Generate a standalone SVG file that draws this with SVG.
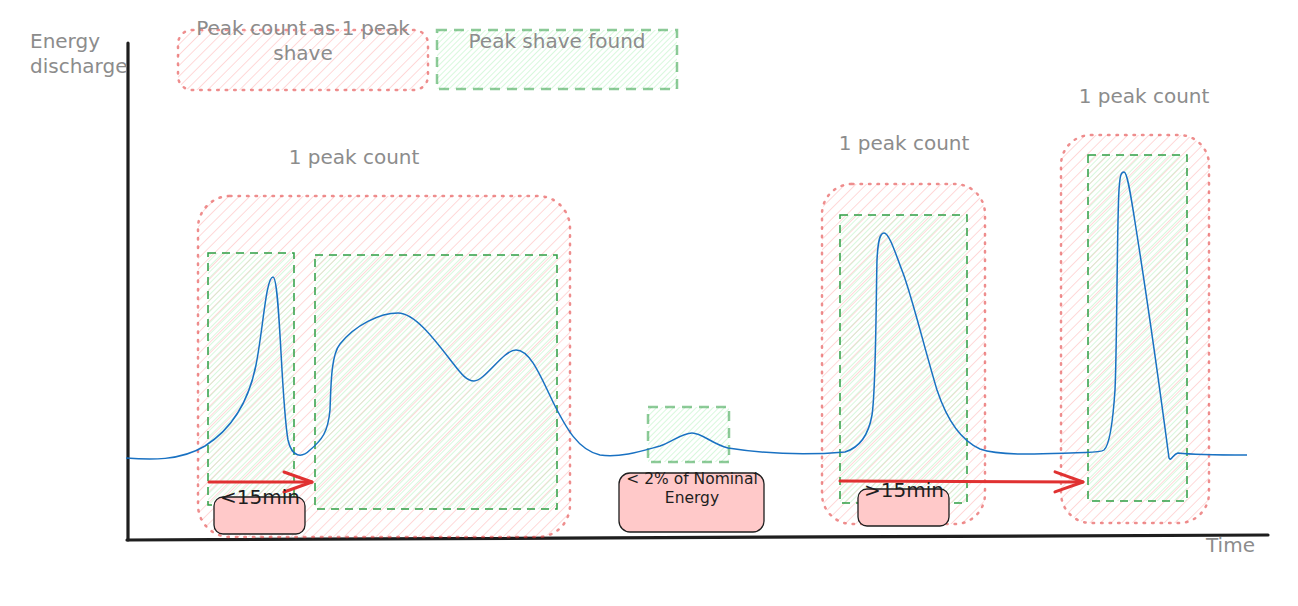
<svg xmlns="http://www.w3.org/2000/svg" width="1298" height="606" viewBox="0 0 1298 606">
<style>
.t{font-family:"DejaVu Sans",sans-serif;font-size:20px;fill:#8c8c8c;text-anchor:middle}
.tl{text-anchor:start}
.d{font-family:"DejaVu Sans",sans-serif;fill:#1e1e1e;text-anchor:middle}
.grp{fill:url(#hp);stroke:#e03131;stroke-opacity:.55;stroke-width:2.5;stroke-dasharray:1.5 7;stroke-linecap:round}
.pk{fill:url(#hg);stroke:#2f9e44;stroke-width:1.5;stroke-dasharray:8 6}
.pkl{fill:url(#hg);stroke:#2f9e44;stroke-opacity:.55;stroke-width:2.5;stroke-dasharray:10 7}
.lab{fill:#ffc9c9;stroke:#1e1e1e;stroke-width:1.3}
.ax{stroke:#1e1e1e;stroke-width:3.2;fill:none;stroke-linecap:round}
.arr{stroke:#e03131;stroke-width:3;fill:none;stroke-linecap:round;marker-end:url(#ah)}
.curve{fill:none;stroke:#1971c2;stroke-width:1.5;stroke-linejoin:round}
</style>
<defs>
<pattern id="hp" patternUnits="userSpaceOnUse" width="7.5" height="7.5" patternTransform="rotate(45)">
<line x1="0" y1="0" x2="0" y2="7.5" stroke="#ffc9c9" stroke-width="1.4"/>
</pattern>
<pattern id="hg" patternUnits="userSpaceOnUse" width="4" height="4" patternTransform="rotate(45)">
<line x1="0" y1="0" x2="0" y2="4" stroke="#b2f2bb" stroke-width="1"/>
</pattern>
<marker id="ah" markerUnits="userSpaceOnUse" markerWidth="40" markerHeight="30" refX="30" refY="12" orient="auto" overflow="visible">
<path d="M2 2 L30 12 L2 22" fill="none" stroke="#e03131" stroke-width="3" stroke-linecap="round" stroke-linejoin="round"/>
</marker>
</defs>

<g id="legend-group">
<rect class="grp" x="178" y="30" width="250" height="60" rx="14"/>
<text class="t" x="303" y="35">Peak count as 1 peak</text>
<text class="t" x="303" y="60">shave</text>
</g>
<g id="legend-peak">
<rect class="pkl" x="437" y="30" width="240" height="59"/>
<text class="t" x="557" y="48">Peak shave found</text>
</g>

<g id="axes">
<path class="ax" d="M128 43 L128 540"/>
<path class="ax" d="M127 540 L1268 535"/>
<text class="t tl" x="30" y="48">Energy</text>
<text class="t tl" x="30" y="73">discharge</text>
<text class="t tl" x="1206" y="552">Time</text>
</g>

<g id="group1">
<rect class="grp" x="198" y="196" width="372" height="341" rx="32"/>
<text class="t" x="354" y="164">1 peak count</text>
</g>
<g id="group2">
<rect class="grp" x="822" y="184" width="163" height="340" rx="30"/>
<text class="t" x="904" y="150">1 peak count</text>
</g>
<g id="group3">
<rect class="grp" x="1061" y="135" width="148" height="388" rx="30"/>
<text class="t" x="1144" y="103">1 peak count</text>
</g>

<g id="peak1"><rect class="pk" x="208" y="253" width="86" height="252"/></g>
<g id="peak2"><rect class="pk" x="315" y="255" width="242" height="254"/></g>
<g id="peak3"><rect class="pk" x="840" y="215" width="127" height="288"/></g>
<g id="peak4"><rect class="pk" x="1088" y="155" width="99" height="346"/></g>
<g id="small-peak"><rect class="pkl" x="648" y="407" width="81" height="55"/></g>

<g id="curve">
<path class="curve" d="M126,458 C150,460 180,461 205,446 C230,430 248,405 256,365 C263,330 266,277 273,277 C280,277 281,400 288,440 C292,458 302,458 310,450 C322,440 328,432 330,410 C331,385 331,355 340,344 C355,325 380,313 398,313 C415,313 435,340 452,362 C462,375 467,381 474,381 C485,381 503,350 516,350 C530,350 540,375 553,402 C566,428 578,450 600,455 C622,458 645,450 660,446 C672,442 682,433 692,433 C702,433 712,444 728,448 C760,453 800,456 845,452 C858,448 868,438 872,415 C876,390 876,300 877,260 C878,240 880,233 884,233 C889,233 895,252 903,273 C912,297 925,350 937,390 C947,420 960,440 980,449 C1000,456 1040,454 1070,453 C1090,452 1100,453 1104,450 C1110,445 1113,420 1115,390 C1117,350 1117,220 1119,190 C1120,175 1121,172 1124,172 C1127,172 1130,190 1135,222 C1145,285 1160,390 1169,458 C1171,462 1173,454 1178,453 C1195,455 1225,455 1247,455"/>
</g>

<g id="connectors">
<path class="arr" d="M209 482 L312 482"/>
<path class="arr" d="M840 481 L1083 482"/>
</g>

<g id="label-lt15">
<rect class="lab" x="214" y="497" width="91" height="37" rx="9"/>
<text class="d" x="260" y="504" font-size="20">&lt;15min</text>
</g>
<g id="label-2pct">
<rect class="lab" x="619" y="473" width="145" height="59" rx="11"/>
<text class="d" x="692" y="484" font-size="15.5">&lt; 2% of Nominal</text>
<text class="d" x="692" y="503" font-size="15.5">Energy</text>
</g>
<g id="label-gt15">
<rect class="lab" x="858" y="489" width="91" height="37" rx="9"/>
<text class="d" x="904" y="497" font-size="20">&gt;15min</text>
</g>
</svg>
